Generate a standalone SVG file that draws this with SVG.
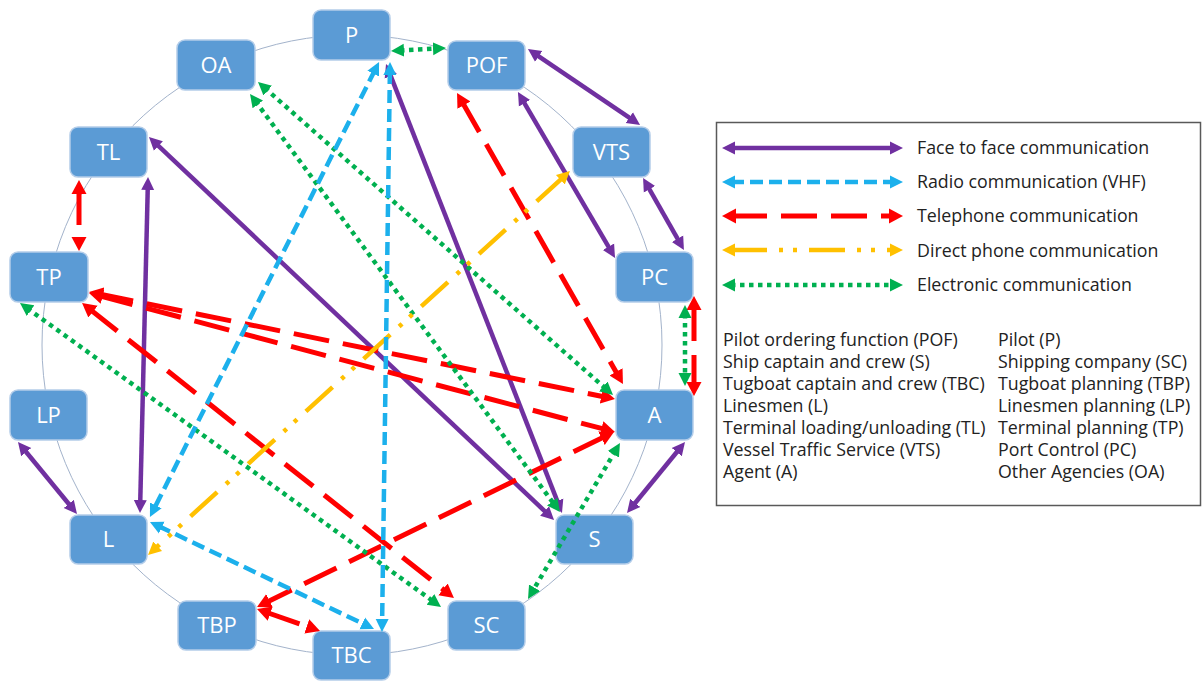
<svg xmlns="http://www.w3.org/2000/svg" width="1203" height="681" viewBox="0 0 1203 681">
<style>
.node rect{fill:#5b9bd5;stroke:#b4cde9;stroke-width:1.5}
.node text{fill:#fff;font-family:"Open Sans","Liberation Sans",sans-serif;font-size:22px;text-anchor:middle}
.c{fill:none;stroke-linecap:butt}
.f2f{stroke:#7030a0;stroke-width:4.5;marker-start:url(#mP);marker-end:url(#mP)}
.vhf{stroke:#1cb0ec;stroke-width:4.5;stroke-dasharray:13 6;marker-start:url(#mB);marker-end:url(#mB)}
.tel{stroke:#ff0000;stroke-width:5;stroke-dasharray:36 14;marker-start:url(#mR);marker-end:url(#mR)}
.dir{stroke:#ffc000;stroke-width:4.5;stroke-dasharray:36 12 4 10 4 12;marker-start:url(#mO);marker-end:url(#mO)}
.ele{stroke:#00b050;stroke-width:4.5;stroke-dasharray:4.5 4.5;marker-start:url(#mG);marker-end:url(#mG)}
.lg{font-family:"Open Sans","Liberation Sans",sans-serif;font-size:17.8px;fill:#222}
</style>
<defs>
<marker id="mP" markerUnits="userSpaceOnUse" viewBox="0 -8 16 16" markerWidth="16" markerHeight="16" refX="4" refY="0" orient="auto-start-reverse"><path d="M0,-6.5 L13,0 L0,6.5 z" fill="#7030a0"/></marker>
<marker id="mB" markerUnits="userSpaceOnUse" viewBox="0 -8 16 16" markerWidth="16" markerHeight="16" refX="4" refY="0" orient="auto-start-reverse"><path d="M0,-6.5 L13,0 L0,6.5 z" fill="#1cb0ec"/></marker>
<marker id="mR" markerUnits="userSpaceOnUse" viewBox="0 -8 16 16" markerWidth="16" markerHeight="16" refX="5" refY="0" orient="auto-start-reverse"><path d="M0,-7.5 L14,0 L0,7.5 z" fill="#ff0000"/></marker>
<marker id="mO" markerUnits="userSpaceOnUse" viewBox="0 -8 16 16" markerWidth="16" markerHeight="16" refX="4" refY="0" orient="auto-start-reverse"><path d="M0,-6.5 L13,0 L0,6.5 z" fill="#ffc000"/></marker>
<marker id="mG" markerUnits="userSpaceOnUse" viewBox="0 -8 16 16" markerWidth="16" markerHeight="16" refX="4" refY="0" orient="auto-start-reverse"><path d="M0,-6.5 L13,0 L0,6.5 z" fill="#00b050"/></marker>
</defs>
<rect width="1203" height="681" fill="#fff"/>
<circle cx="352" cy="345" r="310" fill="none" stroke="#a3b3cb" stroke-width="1"/>
<g id="node-P" class="node"><rect x="313" y="10" width="77" height="50" rx="8"/><text x="351.5" y="43">P</text></g>
<g id="node-OA" class="node"><rect x="177" y="40" width="78" height="50" rx="8"/><text x="216" y="73">OA</text></g>
<g id="node-POF" class="node"><rect x="448" y="41" width="77" height="49" rx="8"/><text x="486.5" y="73">POF</text></g>
<g id="node-VTS" class="node"><rect x="573" y="127" width="77" height="50" rx="8"/><text x="611.5" y="160">VTS</text></g>
<g id="node-TL" class="node"><rect x="70" y="127" width="77" height="50" rx="8"/><text x="108.5" y="160">TL</text></g>
<g id="node-TP" class="node"><rect x="10" y="252" width="78" height="50" rx="8"/><text x="49" y="285">TP</text></g>
<g id="node-PC" class="node"><rect x="616" y="252" width="77" height="50" rx="8"/><text x="654.5" y="285">PC</text></g>
<g id="node-LP" class="node"><rect x="10" y="390" width="77" height="50" rx="8"/><text x="48.5" y="423">LP</text></g>
<g id="node-A" class="node"><rect x="616" y="390" width="77" height="50" rx="8"/><text x="654.5" y="423">A</text></g>
<g id="node-L" class="node"><rect x="70" y="515" width="77" height="49" rx="8"/><text x="108.5" y="547">L</text></g>
<g id="node-S" class="node"><rect x="556" y="515" width="77" height="49" rx="8"/><text x="594.5" y="547">S</text></g>
<g id="node-TBP" class="node"><rect x="178" y="601" width="78" height="49" rx="8"/><text x="217" y="633">TBP</text></g>
<g id="node-SC" class="node"><rect x="448" y="601" width="77" height="49" rx="8"/><text x="486.5" y="633">SC</text></g>
<g id="node-TBC" class="node"><rect x="313" y="631" width="77" height="49" rx="8"/><text x="351.5" y="663">TBC</text></g>
<g id="connectors" class="c">
<line class="f2f" x1="535.4" y1="54.1" x2="632.6" y2="119.9"/>
<line class="f2f" x1="647.5" y1="185.8" x2="679.5" y2="242.2"/>
<line class="f2f" x1="679.3" y1="449" x2="632.7" y2="506"/>
<line class="f2f" x1="23.7" y1="449" x2="71.3" y2="507"/>
<line class="f2f" x1="522.5" y1="99.8" x2="610.5" y2="250.2"/>
<line class="f2f" x1="389.3" y1="72.4" x2="558.7" y2="504.6"/>
<line class="f2f" x1="155.5" y1="143.2" x2="547.5" y2="513.8"/>
<line class="f2f" x1="147.8" y1="186" x2="140.2" y2="504"/>
<line class="tel" x1="79" y1="189" x2="79" y2="242"/>
<line class="tel" x1="694" y1="305" x2="694" y2="387"/>
<line class="tel" x1="97.8" y1="293.8" x2="606.2" y2="397.2"/>
<line class="tel" x1="97.7" y1="295.3" x2="606.3" y2="429.7"/>
<line class="tel" x1="461.5" y1="100.8" x2="618.5" y2="376.2"/>
<line class="tel" x1="89.1" y1="308.6" x2="446.9" y2="592.4"/>
<line class="tel" x1="605.9" y1="436" x2="265.1" y2="603"/>
<line class="tel" x1="265.5" y1="612" x2="311.5" y2="628"/>
<line class="ele" x1="400" y1="50.5" x2="437" y2="48.5"/>
<line class="ele" x1="685" y1="314" x2="685" y2="377"/>
<line class="ele" x1="264.75" y1="87.95" x2="606.25" y2="389.05"/>
<line class="ele" x1="255.4" y1="101.2" x2="554.6" y2="504.8"/>
<line class="ele" x1="27.3" y1="308.3" x2="433.7" y2="601.7"/>
<line class="ele" x1="615.4" y1="450.8" x2="532.6" y2="591.2"/>
<line class="dir" x1="563.3" y1="177.1" x2="154.7" y2="548.9"/>
<line class="vhf" x1="375" y1="70" x2="154" y2="509"/>
<line class="vhf" x1="389.9" y1="71" x2="382.1" y2="623"/>
<line class="vhf" x1="158.1" y1="525.9" x2="365.9" y2="625.1"/>
</g>
<g id="legend">
<rect x="716.5" y="122.5" width="484" height="383" fill="#fff" stroke="#595959" stroke-width="1.5"/>
<g class="c">
<line class="f2f" x1="731" y1="148" x2="894" y2="148"/>
<line class="vhf" x1="731" y1="182" x2="894" y2="182"/>
<line class="tel" x1="731" y1="216" x2="894" y2="216"/>
<line class="dir" x1="731" y1="250" x2="894" y2="250"/>
<line class="ele" x1="731" y1="285" x2="894" y2="285"/>
</g>
<text class="lg" x="917" y="154">Face to face communication</text>
<text class="lg" x="917" y="188">Radio communication (VHF)</text>
<text class="lg" x="917" y="222">Telephone communication</text>
<text class="lg" x="917" y="257">Direct phone communication</text>
<text class="lg" x="917" y="291">Electronic communication</text>
<text class="lg" x="723" y="346">Pilot ordering function (POF)</text>
<text class="lg" x="723" y="368">Ship captain and crew (S)</text>
<text class="lg" x="723" y="390">Tugboat captain and crew (TBC)</text>
<text class="lg" x="723" y="412">Linesmen (L)</text>
<text class="lg" x="723" y="434">Terminal loading/unloading (TL)</text>
<text class="lg" x="723" y="456">Vessel Traffic Service (VTS)</text>
<text class="lg" x="723" y="478">Agent (A)</text>
<text class="lg" x="998" y="346">Pilot (P)</text>
<text class="lg" x="998" y="368">Shipping company (SC)</text>
<text class="lg" x="998" y="390">Tugboat planning (TBP)</text>
<text class="lg" x="998" y="412">Linesmen planning (LP)</text>
<text class="lg" x="998" y="434">Terminal planning (TP)</text>
<text class="lg" x="998" y="456">Port Control (PC)</text>
<text class="lg" x="998" y="478">Other Agencies (OA)</text>
</g>
</svg>
